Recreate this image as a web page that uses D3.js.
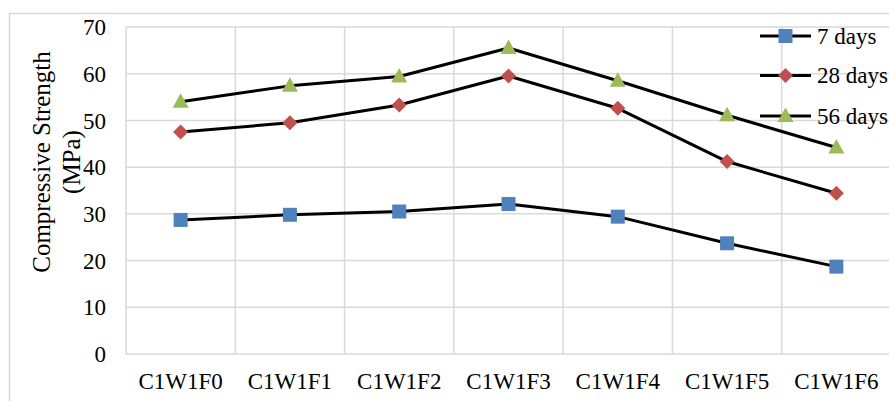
<!DOCTYPE html>
<html>
<head>
<meta charset="utf-8">
<script src="https://cdn.jsdelivr.net/npm/d3@7/dist/d3.min.js"></script>
<style>
  html, body { margin: 0; padding: 0; background: #fff; }
  svg { display: block; }
  svg text { fill: #000; }
</style>
</head>
<body>
<svg id="chart" width="889" height="401"></svg>
<script>
// Mix designations along the x axis
const categories = ["C1W1F0", "C1W1F1", "C1W1F2", "C1W1F3", "C1W1F4", "C1W1F5", "C1W1F6"];

// Compressive strength (MPa) at each curing age
const days7  = [28.7, 29.8, 30.5, 32.1, 29.4, 23.7, 18.7];
const days28 = [47.5, 49.5, 53.3, 59.5, 52.6, 41.2, 34.4];
const days56 = [54.0, 57.4, 59.4, 65.5, 58.5, 51.1, 44.2];

const seriesNames = ["7 days", "28 days", "56 days"];
const yTicks = [0, 10, 20, 30, 40, 50, 60, 70];

const series = [
  { name: seriesNames[0], values: days7,  color: "#4F81BD", shape: "square" },
  { name: seriesNames[1], values: days28, color: "#C0504D", shape: "diamond" },
  { name: seriesNames[2], values: days56, color: "#9BBB59", shape: "triangle" }
];

const FONT = "'Liberation Serif', 'Times New Roman', Times, serif";
const FS = 23;

const svg = d3.select("#chart");

// chart frame
svg.append("rect")
  .attr("x", 9.5).attr("y", 13.5)
  .attr("width", 900).attr("height", 400)
  .attr("fill", "none").attr("stroke", "#d9d9d9").attr("stroke-width", 1.5);

const plot = { left: 126, right: 891, top: 27, bottom: 354 };

const x = d3.scaleBand().domain(categories).range([plot.left, plot.right]).padding(0);
const y = d3.scaleLinear().domain([0, 70]).range([plot.bottom, plot.top]);

// horizontal gridlines
svg.append("g")
  .selectAll("line")
  .data(yTicks)
  .join("line")
  .attr("x1", plot.left).attr("x2", plot.right)
  .attr("y1", d => y(d)).attr("y2", d => y(d))
  .attr("stroke", "#d9d9d9").attr("stroke-width", 1.5);

// vertical gridlines at category boundaries
const bounds = categories.map(c => x(c)).concat([x(categories[categories.length - 1]) + x.bandwidth()]);
svg.append("g")
  .selectAll("line")
  .data(bounds)
  .join("line")
  .attr("x1", d => d).attr("x2", d => d)
  .attr("y1", plot.top).attr("y2", plot.bottom)
  .attr("stroke", "#d9d9d9").attr("stroke-width", 1.5);

// y axis labels
const yAxis = d3.axisLeft(y).tickValues(yTicks).tickSize(0).tickPadding(0).tickFormat(d3.format("d"));
const gy = svg.append("g").attr("transform", `translate(${plot.left - 20},0)`).call(yAxis)
  .attr("font-family", FONT).attr("font-size", FS);
gy.select(".domain").remove();
gy.selectAll("text").attr("dy", "0.33em");

// x axis labels
const xAxis = d3.axisBottom(x).tickSize(0).tickPadding(0);
const gx = svg.append("g").attr("transform", `translate(0,389)`).call(xAxis)
  .attr("font-family", FONT).attr("font-size", FS);
gx.select(".domain").remove();
gx.selectAll("text").attr("y", 0).attr("dy", 0);

// y axis title (two lines, rotated)
const title = svg.append("text")
  .attr("transform", "translate(0,162) rotate(-90)")
  .attr("text-anchor", "middle")
  .attr("font-family", FONT)
  .attr("font-size", 25);
title.append("tspan").attr("x", 0).attr("y", 50).text("Compressive Strength");
title.append("tspan").attr("x", 0).attr("y", 80).text("(MPa)");

// marker drawing
function marker(sel, shape, color) {
  if (shape === "square") {
    sel.append("rect").attr("x", -7).attr("y", -7).attr("width", 14).attr("height", 14)
      .attr("fill", color);
  } else if (shape === "diamond") {
    sel.append("path").attr("d", "M0,-7.5L7.5,0L0,7.5L-7.5,0Z").attr("fill", color);
  } else {
    sel.append("path").attr("d", "M0,-8.5L8,6L-8,6Z").attr("fill", color);
  }
}

const line = d3.line()
  .x((d, i) => x(categories[i]) + x.bandwidth() / 2)
  .y(d => y(d));

series.forEach(s => {
  svg.append("path")
    .datum(s.values)
    .attr("d", line)
    .attr("fill", "none")
    .attr("stroke", "#000")
    .attr("stroke-width", 3)
    .attr("stroke-linejoin", "round");
});

series.forEach(s => {
  s.values.forEach((v, i) => {
    const g = svg.append("g")
      .attr("transform", `translate(${x(categories[i]) + x.bandwidth() / 2},${y(v)})`);
    marker(g, s.shape, s.color);
  });
});

// legend
const legendY = [36, 75.5, 116];
series.forEach((s, i) => {
  const g = svg.append("g").attr("transform", `translate(760,${legendY[i]})`);
  g.append("line").attr("x1", 0).attr("x2", 51).attr("y1", 0).attr("y2", 0)
    .attr("stroke", "#000").attr("stroke-width", 3);
  const m = g.append("g").attr("transform", "translate(25.5,0)");
  marker(m, s.shape, s.color);
  g.append("text").attr("x", 57).attr("y", 0).attr("dy", "0.33em")
    .attr("font-family", FONT).attr("font-size", FS).text(s.name);
});
</script>
</body>
</html>
